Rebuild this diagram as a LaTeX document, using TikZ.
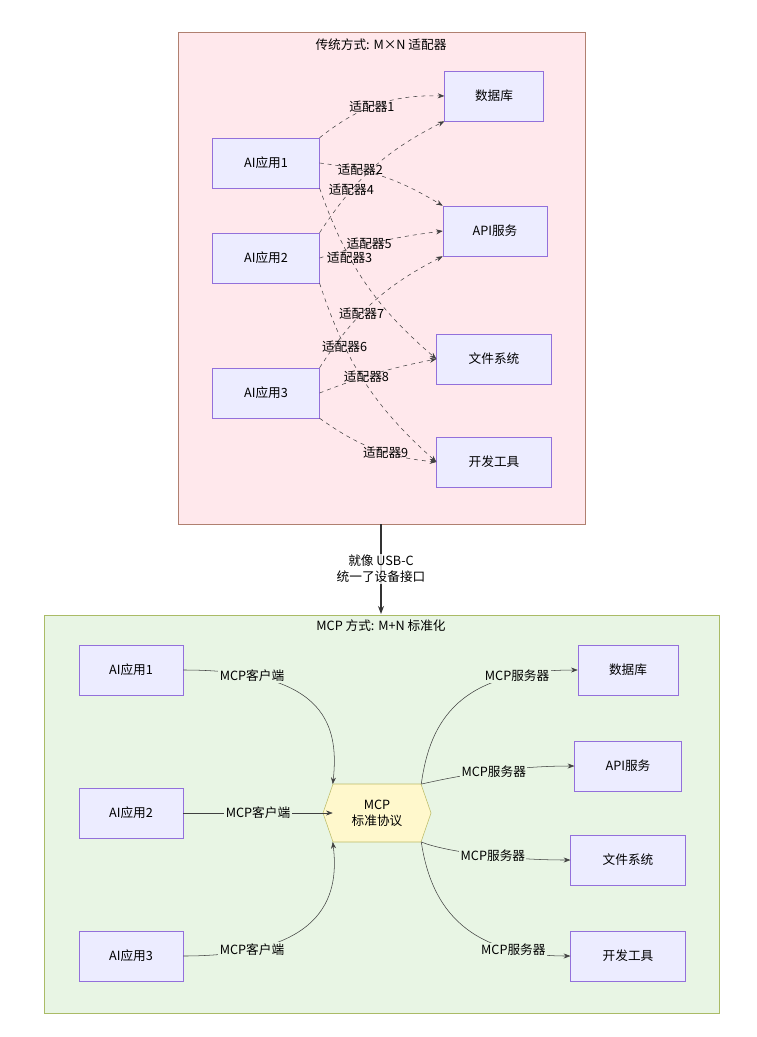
\documentclass[tikz,border=0pt]{standalone}
\usepackage{fontspec}
\setmainfont{Noto Sans CJK SC}
\usetikzlibrary{arrows.meta}
\definecolor{boxfill}{HTML}{ECECFF}
\definecolor{boxline}{HTML}{9370DB}
\definecolor{oldfill}{HTML}{FFE8EC}
\definecolor{oldline}{HTML}{B08070}
\definecolor{newfill}{HTML}{E8F5E4}
\definecolor{newline}{HTML}{AABB66}
\definecolor{hubfill}{HTML}{FFF8CC}
\definecolor{hubline}{HTML}{BBBB66}
\tikzset{
  block/.style={draw=boxline, fill=boxfill, rectangle, minimum height=37.5pt, font=\fontsize{9.5}{12}\selectfont},
  hub/.style={rectangle, minimum height=43pt, minimum width=66pt, align=center, font=\fontsize{9.5}{12}\selectfont},
  conn/.style={draw=black!75, -{Stealth[length=5pt]}, thin},
  adapter/.style={conn, dashed},
  lbl/.style={font=\fontsize{9.5}{12}\selectfont, inner sep=1pt},
  frame/.style={font=\fontsize{9.5}{12}\selectfont}
}
\begin{document}
\begin{tikzpicture}[x=0.75pt, y=-0.75pt]
    \useasboundingbox (0,0) rectangle (756,1037);
    % the two frames
    \draw[draw=oldline, fill=oldfill] (178,32) rectangle (585,524);
    \node[frame] (oldtitle) at (381,45) {传统方式: M×N 适配器};
    \draw[draw=newline, fill=newfill] (44,615) rectangle (719,1013);
    \node[frame] (newtitle) at (381,626) {MCP 方式: M+N 标准化};
    \coordinate (oldbottom) at (381,524);
    \coordinate (newtop) at (381,614);

    % traditional way
    \node [block, minimum width=80pt] (app1) at (266,163) {AI应用1};
    \node [block, minimum width=80pt] (app2) at (266,258) {AI应用2};
    \node [block, minimum width=80pt] (app3) at (266,393) {AI应用3};
    \node [block, minimum width=74pt] (db) at (494,96) {数据库};
    \node [block, minimum width=78pt] (api) at (495,231) {API服务};
    \node [block, minimum width=86pt] (fs) at (494,359) {文件系统};
    \node [block, minimum width=86pt] (dev) at (494,462) {开发工具};

    \draw[adapter] (app1.north east) to[bend left=20] node[lbl, pos=0.45] {适配器1} (db.west);
    \draw[adapter] (app1.east) to[bend left=12] node[lbl, pos=0.3] {适配器2} (api.north west);
    \draw[adapter] (app1.south east) to[bend right=15] node[lbl, pos=0.35] {适配器3} (fs.west);
    \draw[adapter] (app2.north east) to[bend left=15] node[lbl, pos=0.3] {适配器4} (db.south west);
    \draw[adapter] (app2.east) to[bend left=5] node[lbl, pos=0.4] {适配器5} (api.west);
    \draw[adapter] (app2.south east) to[bend right=15] node[lbl, pos=0.3] {适配器6} (dev.west);
    \draw[adapter] (app3.north east) to[bend left=15] node[lbl, pos=0.4] {适配器7} (api.south west);
    \draw[adapter] (app3.east) to[bend left=5] node[lbl, pos=0.4] {适配器8} (fs.west);
    \draw[adapter] (app3.south east) to[bend right=15] node[lbl, pos=0.6] {适配器9} (dev.west);

    % transition
    \draw[draw=black!80, line width=1.6pt, -{Stealth[length=6pt]}] (oldbottom) -- node[lbl, fill=white, align=center, fill opacity=0.8, text opacity=1] {就像 USB-C\\统一了设备接口} (newtop);

    % MCP way
    \node [block, minimum width=78pt] (mapp1) at (131,670) {AI应用1};
    \node [block, minimum width=78pt] (mapp2) at (131,813) {AI应用2};
    \node [block, minimum width=78pt] (mapp3) at (131,956) {AI应用3};
    \draw[draw=hubline, fill=hubfill] (323,813) -- (333,784) -- (421,784) -- (431,813) -- (421,842) -- (333,842) -- cycle;
    \node [hub] (mcp) at (377,813) {MCP\\标准协议};
    \node [block, minimum width=75pt] (mdb) at (628,670) {数据库};
    \node [block, minimum width=80pt] (mapi) at (628,766) {API服务};
    \node [block, minimum width=86pt] (mfs) at (628,860) {文件系统};
    \node [block, minimum width=86pt] (mdev) at (628,956) {开发工具};

    \draw[conn] (mapp1.east) .. controls (320,670) and (340,720) .. node[lbl, pos=0.2, fill=newfill] {MCP客户端} (mcp.north west);
    \draw[conn] (mapp2.east) -- node[lbl, fill=newfill] {MCP客户端} (mcp.west);
    \draw[conn] (mapp3.east) .. controls (320,956) and (340,900) .. node[lbl, pos=0.2, fill=newfill] {MCP客户端} (mcp.south west);
    \draw[conn] (mcp.north east) .. controls (430,720) and (460,670) .. node[lbl, pos=0.8, fill=newfill] {MCP服务器} (mdb.west);
    \draw[conn] (mcp.north east) .. controls (440,780) and (500,766) .. node[lbl, pos=0.6, fill=newfill] {MCP服务器} (mapi.west);
    \draw[conn] (mcp.south east) .. controls (440,850) and (500,860) .. node[lbl, pos=0.6, fill=newfill] {MCP服务器} (mfs.west);
    \draw[conn] (mcp.south east) .. controls (430,900) and (460,956) .. node[lbl, pos=0.8, fill=newfill] {MCP服务器} (mdev.west);
\end{tikzpicture}
\end{document}
